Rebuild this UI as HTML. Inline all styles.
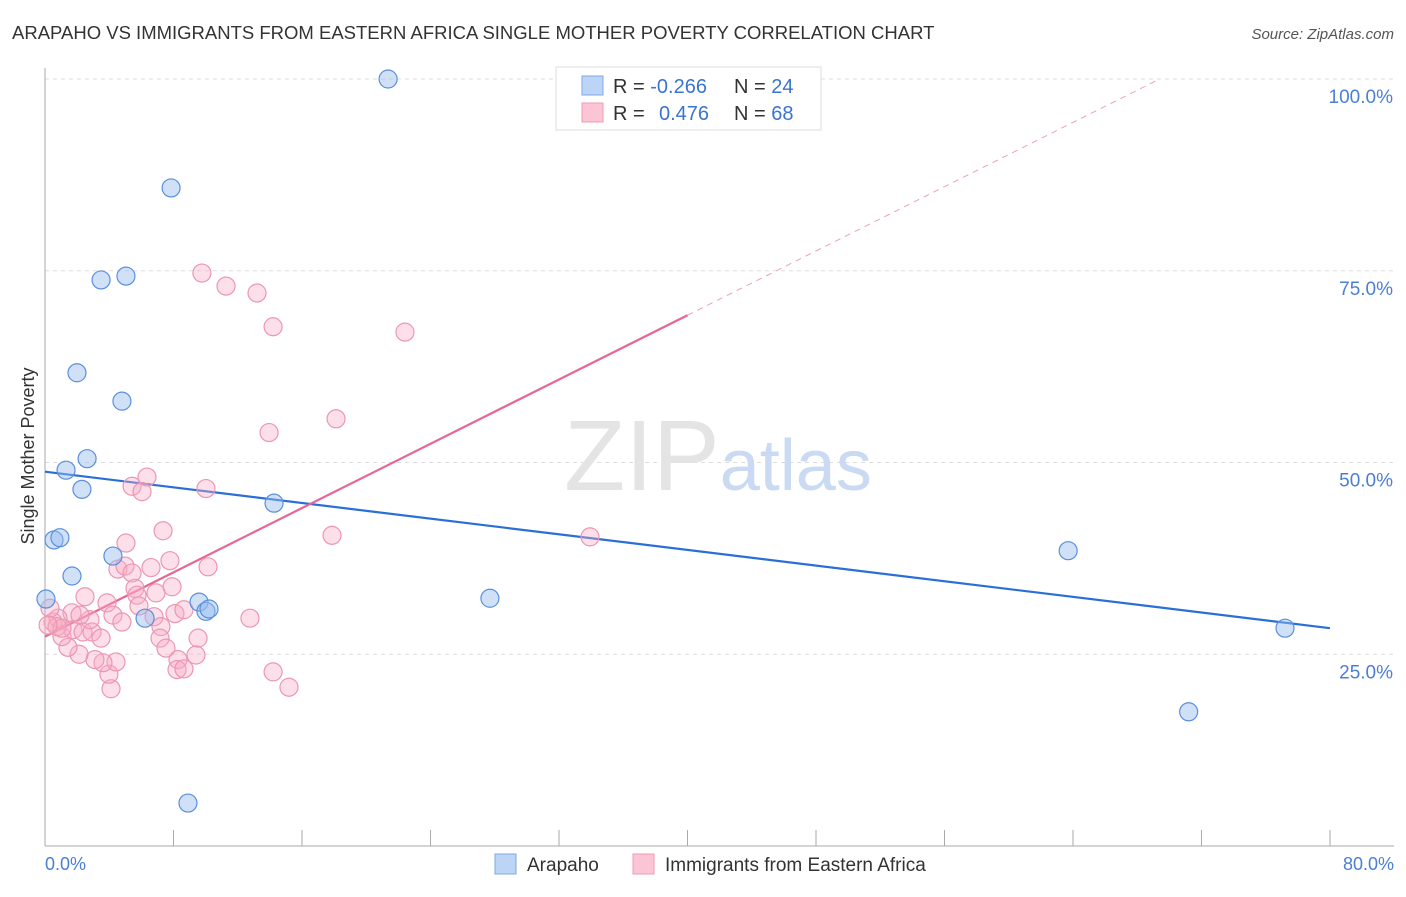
<!DOCTYPE html>
<html><head><meta charset="utf-8">
<style>
body{margin:0;background:#fff;font-family:"Liberation Sans",sans-serif;}
svg text{font-family:"Liberation Sans",sans-serif;}
</style></head>
<body>
<svg id="chart" width="1406" height="892" xmlns="http://www.w3.org/2000/svg">
<text x="12" y="39" font-size="18.5" fill="#333">ARAPAHO VS IMMIGRANTS FROM EASTERN AFRICA SINGLE MOTHER POVERTY CORRELATION CHART</text>
<text x="1394" y="39" font-size="15" fill="#555" text-anchor="end" font-style="italic">Source: ZipAtlas.com</text>
<g id="grid"></g>
<text x="718" y="490" font-size="100" text-anchor="middle" fill="#e4e4e4" font-family="Liberation Serif, serif">ZIP<tspan fill="#c9daf2" font-family="Liberation Sans, sans-serif" font-size="72">atlas</tspan></text>
<g id="axes"></g>
<g id="lines"></g>
<g id="points"></g>
<text transform="translate(34,456) rotate(-90)" font-size="18" fill="#333" text-anchor="middle">Single Mother Poverty</text>
<text x="45" y="870" font-size="18" fill="#4a7fd4">0.0%</text>
<text x="1394" y="870" font-size="18" fill="#4a7fd4" text-anchor="end">80.0%</text>
<g>
<rect x="556" y="67" width="265" height="63" fill="#fff" stroke="#ddd"/>
<rect x="582" y="76" width="21" height="19" fill="#bcd4f5" stroke="#7ea9e6"/>
<rect x="582" y="103" width="21" height="19" fill="#fcc5d6" stroke="#ef9ab7"/>
<text x="613" y="93" font-size="20" fill="#333">R = <tspan fill="#3a74d0">-0.266</tspan><tspan x="734">N = </tspan><tspan fill="#3a74d0">24</tspan></text>
<text x="613" y="120" font-size="20" fill="#333">R = <tspan x="659" fill="#3a74d0">0.476</tspan><tspan x="734">N = </tspan><tspan fill="#3a74d0">68</tspan></text>
</g>
<g>
<rect x="495" y="854" width="21" height="20" fill="#bcd4f5" stroke="#7ea9e6"/>
<text x="527" y="871" font-size="19" fill="#333">Arapaho</text>
<rect x="633" y="854" width="21" height="20" fill="#fcc5d6" stroke="#ef9ab7"/>
<text x="665" y="871" font-size="19" fill="#333">Immigrants from Eastern Africa</text>
</g>
</svg>
<script>
const yTicks=[25,50,75,100];
const yTickLabels=["25.0%","50.0%","75.0%","100.0%"];
const xTicks=[0,8,16,24,32,40,48,56,64,72,80];
const blueX=[21.36,7.85,3.49,5.04,1.99,4.79,1.31,2.62,2.30,14.26,0.56,0.93,4.23,1.68,0.06,9.59,10.02,10.21,6.23,27.7,63.7,77.2,71.2,8.9];
const blueY=[100,85.8,73.8,74.3,61.7,58.0,49.0,50.5,46.5,44.7,39.9,40.2,37.8,35.2,32.2,31.8,30.6,30.9,29.7,32.3,38.5,28.4,17.5,5.6];
const pinkX=[5.42,6.35,6.04,10.02,7.35,17.87,5.04,7.78,6.60,4.54,4.98,5.42,10.15,5.60,7.91,6.91,2.49,3.86,5.73,5.85,4.23,4.79,6.79,8.09,8.65,12.76,7.22,9.53,7.16,7.53,9.40,8.28,8.22,8.65,14.2,15.19,4.11,3.98,4.42,3.61,3.11,2.12,1.43,1.06,1.74,2.37,2.93,3.49,1.68,0.50,0.81,0.31,2.80,0.75,2.18,9.77,11.27,13.20,14.20,22.41,13.95,18.12,33.93,1.06,0.19];
const pinkY=[46.9,48.1,46.2,46.6,41.1,40.5,39.5,37.2,36.3,36.1,36.5,35.6,36.4,33.6,33.8,33.0,32.5,31.7,32.7,31.3,30.1,29.2,29.9,30.3,30.8,29.7,28.6,27.1,27.1,25.8,24.9,24.3,23.0,23.1,22.7,20.7,20.5,22.4,24.0,23.9,24.3,25.0,25.9,27.3,28.2,27.9,27.9,27.1,30.4,29.2,29.7,31.0,29.5,28.6,30.1,74.7,73.0,72.1,67.7,67.0,53.9,55.7,40.3,28.4,28.8];
const blueTrend=[[0,48.8],[80,28.4]];
const pinkTrend=[[0,27.3],[40,69.2]];
const pinkTrendExt=[[40,69.2],[69.4,100]];

const NS="http://www.w3.org/2000/svg";
const X0=45,X1=1330,Y0=846,Y100=79;
function sx(v){return X0+(v/80)*(X1-X0);}
function sy(v){return Y0-(v/100)*(Y0-Y100);}
function mk(tag,attrs,parent){const e=document.createElementNS(NS,tag);for(const k in attrs)e.setAttribute(k,attrs[k]);parent.appendChild(e);return e;}
const grid=document.getElementById('grid');
yTicks.forEach((t,i)=>{
  const l=mk('line',{x1:X0,x2:1394,y1:sy(t),y2:sy(t),stroke:'#ddd','stroke-dasharray':'4,4'},grid);
  
  
  const tx=mk('text',{x:1393,y:sy(t)+24,'font-size':19,fill:'#4a7fd4','text-anchor':'end'},grid);
  tx.textContent=yTickLabels[i];
  
  
});
const axes=document.getElementById('axes');
const ya=mk('line',{x1:X0,x2:X0,y1:68,y2:846,stroke:'#aaa'},axes);


const xa=mk('line',{x1:X0,x2:1394,y1:846,y2:846,stroke:'#aaa'},axes);


xTicks.forEach(t=>{
  const l=mk('line',{x1:sx(t),x2:sx(t),y1:830,y2:846,stroke:'#aaa'},axes);
  
  
});
const lines=document.getElementById('lines');
const bl=mk('line',{x1:sx(blueTrend[0][0]),y1:sy(blueTrend[0][1]),x2:sx(blueTrend[1][0]),y2:sy(blueTrend[1][1]),stroke:'#2a6fd6','stroke-width':2.2},lines);


const pl=mk('line',{x1:sx(pinkTrend[0][0]),y1:sy(pinkTrend[0][1]),x2:sx(pinkTrend[1][0]),y2:sy(pinkTrend[1][1]),stroke:'#e8668f','stroke-width':2.2},lines);


const pe=mk('line',{x1:sx(pinkTrendExt[0][0]),y1:sy(pinkTrendExt[0][1]),x2:sx(pinkTrendExt[1][0]),y2:sy(pinkTrendExt[1][1]),stroke:'#eca0b8','stroke-width':1,'stroke-dasharray':'6,5'},lines);


const pts=document.getElementById('points');
pinkX.forEach((x,i)=>{
  const c=mk('circle',{cx:sx(x),cy:sy(pinkY[i]),r:9,fill:'rgba(246,170,195,0.38)',stroke:'#ec96b3','stroke-width':1.2},pts);
  
  
});
blueX.forEach((x,i)=>{
  const c=mk('circle',{cx:sx(x),cy:sy(blueY[i]),r:9,fill:'rgba(150,188,238,0.45)',stroke:'#5a8fdc','stroke-width':1.2},pts);
  
  
});
</script>
</body></html>
